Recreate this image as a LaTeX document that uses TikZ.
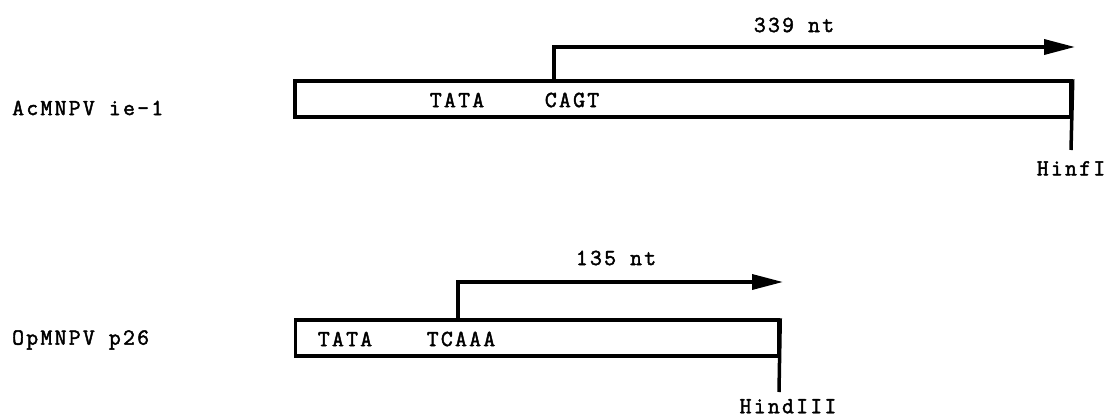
\documentclass[tikz,border=0pt]{standalone}
\usepackage{fontspec}
\usepackage{tikz}
\usetikzlibrary{arrows.meta, positioning, calc}
\newfontfamily\seqfont{Latin Modern Mono}[LetterSpace=10, FakeBold=2]

\tikzset{
  seqtext/.style={font=\seqfont\fontsize{23}{25}\selectfont, inner sep=0pt},
  seqbox/.style={draw, line width=3.5pt, minimum height=36pt, inner sep=0pt},
  txarrow/.style={line width=3.5pt, -{Triangle[length=31pt, width=15pt]}},
  sitetick/.style={line width=3.5pt},
}

\begin{document}
\begin{tikzpicture}[x=1pt, y=-1pt]
  \useasboundingbox (0,0) rectangle (1105,420);

  % AcMNPV ie-1
  \node[seqtext, anchor=west] (ielabel) at (12,108) {AcMNPV ie-1};
  \node[seqbox, minimum width=776pt] (iebox) at (683,99) {};
  \node[seqtext] (ietata) at (457,100) {TATA};
  \node[seqtext] (iecagt) at (572,100) {CAGT};
  \coordinate (ietss) at (554,81);
  \coordinate (ieend) at (1075,47);
  \draw[txarrow] (ietss) |- (ieend);
  \node[seqtext] (ielen) at (794,25) {339 nt};
  \coordinate (hinf) at (1071,150);
  \draw[sitetick] (iebox.north east) -- (hinf);
  \node[seqtext, below=11pt of hinf] (hinflabel) {HinfI};

  % OpMNPV p26
  \node[seqtext, anchor=west] (p26label) at (12,340) {OpMNPV p26};
  \node[seqbox, minimum width=483pt] (p26box) at (537,338) {};
  \node[seqtext] (p26tata) at (345,339) {TATA};
  \node[seqtext] (p26tcaaa) at (461,339) {TCAAA};
  \coordinate (p26tss) at (458,320);
  \coordinate (p26end) at (783,282);
  \draw[txarrow] (p26tss) |- (p26end);
  \node[seqtext] (p26len) at (616,258) {135 nt};
  \coordinate (hind) at (779,392);
  \draw[sitetick] (p26box.north east) -- (hind);
  \node[seqtext, below=7pt of hind, xshift=9pt] (hindlabel) {HindIII};
\end{tikzpicture}
\end{document}
